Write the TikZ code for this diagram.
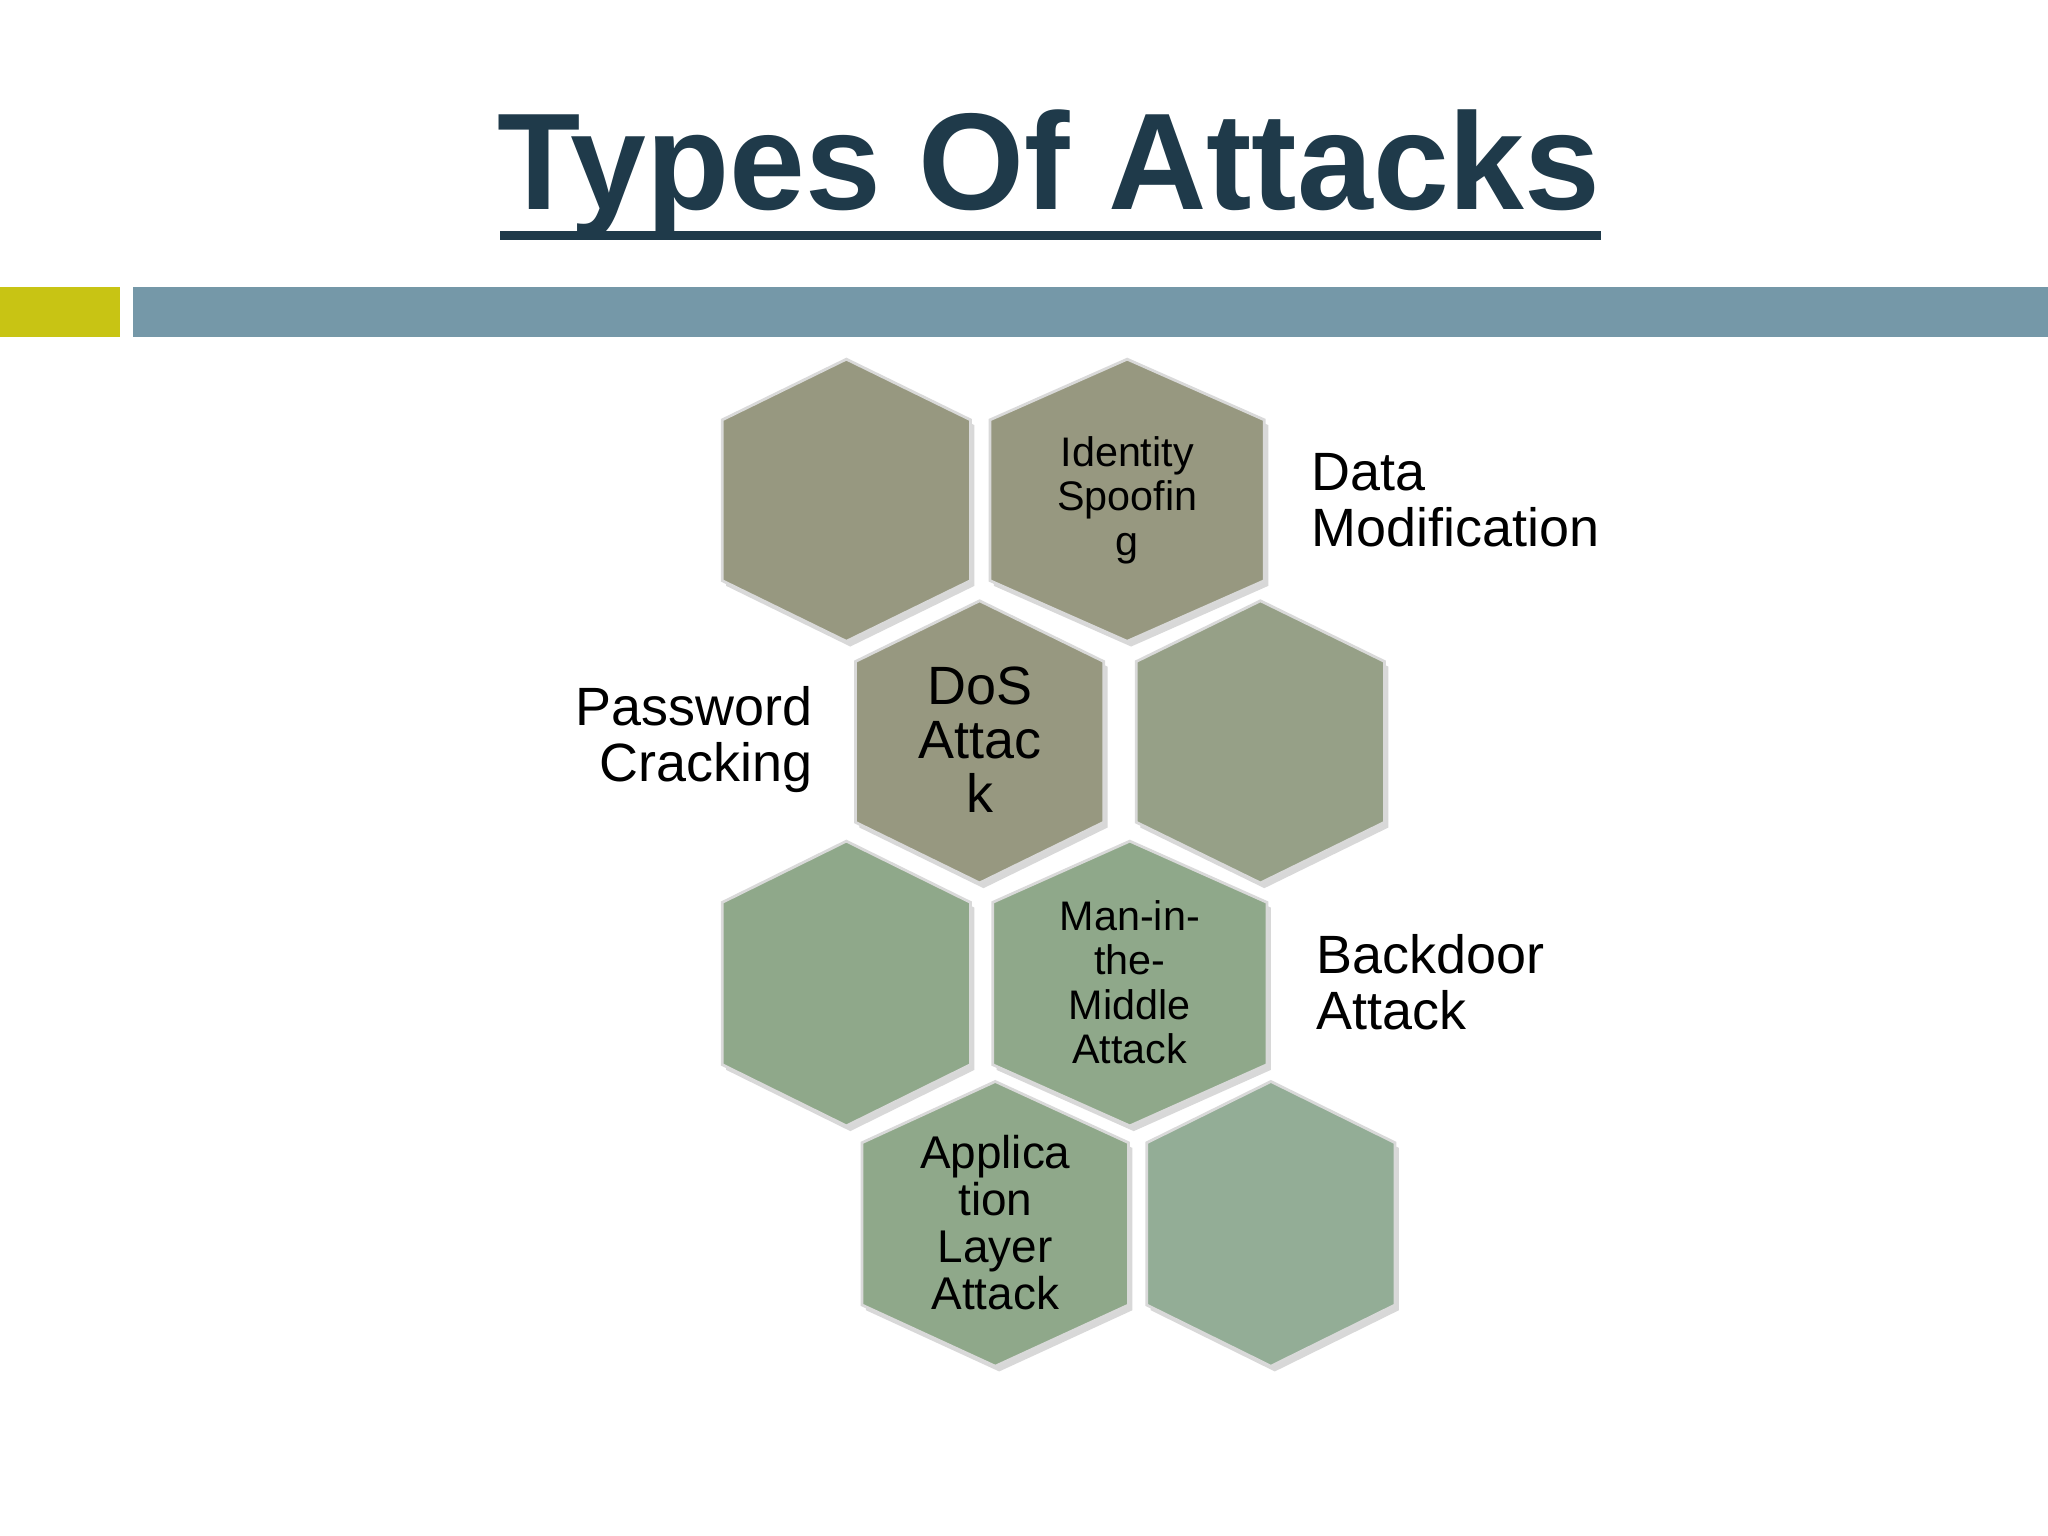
\documentclass[tikz,border=0pt]{standalone}
\usepackage{fontspec}
\setmainfont{Liberation Sans}
\usetikzlibrary{calc}
\begin{document}
\begin{tikzpicture}[x=0.02cm,y=-0.02cm,
  lbl/.style={align=center,text=black,font=\fontsize{23.5}{23.5}\selectfont},
  sml/.style={align=center,text=black,font=\fontsize{18}{19.3}\selectfont},
  side/.style={align=left,text=black,font=\fontsize{23.5}{24.5}\selectfont,anchor=west}]
\useasboundingbox (0,0) rectangle (1568,1176);
\fill[white] (0,0) rectangle (1568,1176);
\definecolor{titc}{HTML}{1F3A4A}
\definecolor{yel}{HTML}{C8C414}
\definecolor{bar}{HTML}{7598A8}
\definecolor{hA}{HTML}{979880}
\definecolor{hB}{HTML}{96A087}
\definecolor{hC}{HTML}{8FA88A}
\definecolor{hD}{HTML}{93AD96}
\node[font=\bfseries\fontsize{60}{66}\selectfont,text=titc,xscale=0.99] (title) at (803,133) {Types Of Attacks};
\fill[titc] (383,177) rectangle (1226,184);
\fill[yel] (0,220) rectangle (92,258);
\fill[bar] (102,220) rectangle (1568,258);
\newcommand{\hexa}[5]{%
 \fill[black!30,opacity=0.5] ($(#1,#2)+(3,4)$) +(0,-#4) -- +(#3,-0.57*#4) -- +(#3,0.57*#4) -- +(0,#4) -- +(-#3,0.57*#4) -- +(-#3,-0.57*#4) -- cycle;
 \filldraw[fill=#5,draw=black!15,line width=1.2pt] (#1,#2) +(0,-#4) -- +(#3,-0.57*#4) -- +(#3,0.57*#4) -- +(0,#4) -- +(-#3,0.57*#4) -- +(-#3,-0.57*#4) -- cycle;}
\hexa{648}{383}{95}{108}{hA}
\hexa{863}{383}{105}{108}{hA}
\hexa{750}{568}{95}{108}{hA}
\hexa{965}{568}{95}{108}{hB}
\hexa{648}{753}{95}{109}{hC}
\hexa{865}{753}{105}{109}{hC}
\hexa{762}{937}{102}{109}{hC}
\hexa{973}{937}{95}{109}{hD}
\node[sml] (t2) at (863,383) {Identity\\Spoofin\\g};
\node[lbl] (t3) at (750,566) {DoS\\Attac\\k};
\node[sml] (t6) at (865,752) {Man-in-\\the-\\Middle\\Attack};
\node[lbl,font=\fontsize{20}{20.5}\selectfont] (t7) at (762,936) {Applica\\tion\\Layer\\Attack};
\node[side] (s1) at (998,383) {Data\\Modification};
\node[side,align=right,anchor=east] (s2) at (628,566) {Password\\Cracking};
\node[side] (s3) at (1002,752) {Backdoor\\Attack};
\end{tikzpicture}
\end{document}
